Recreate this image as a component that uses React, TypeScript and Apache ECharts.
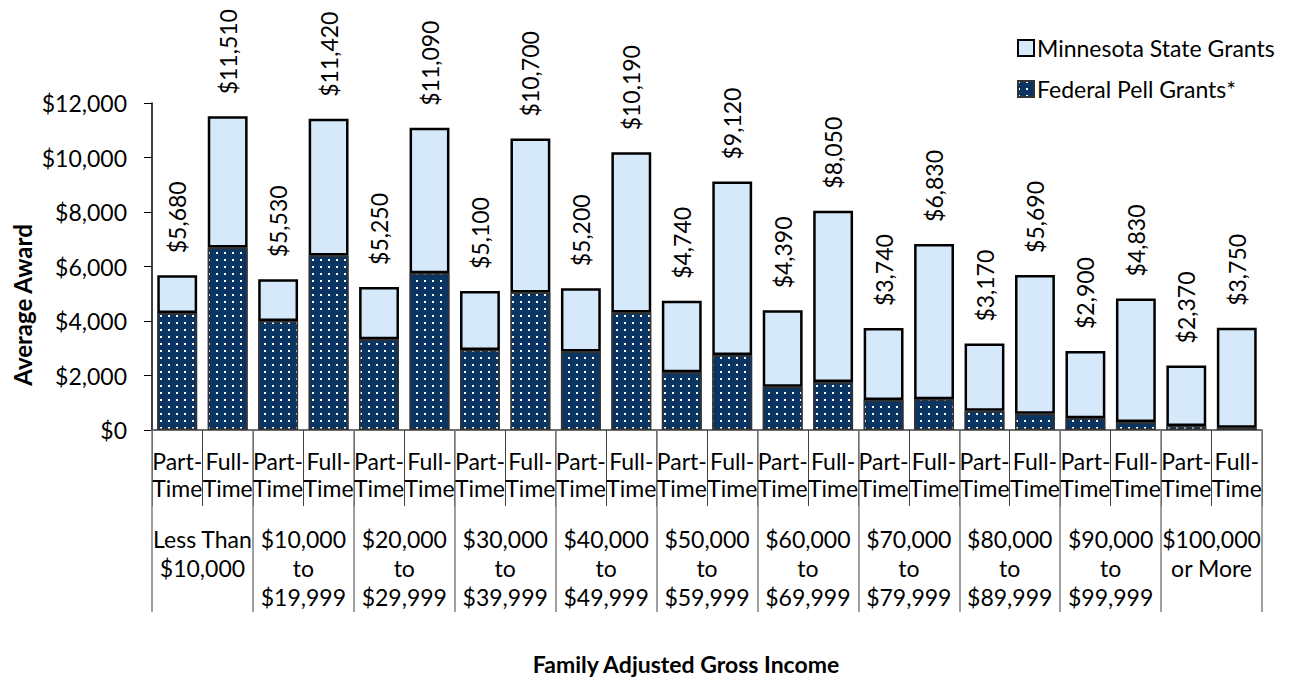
import React, { useEffect, useRef } from "react";
import * as echarts from "echarts";

const subCategories = [
  "Part-\nTime", "Full-\nTime", "Part-\nTime", "Full-\nTime", "Part-\nTime", "Full-\nTime",
  "Part-\nTime", "Full-\nTime", "Part-\nTime", "Full-\nTime", "Part-\nTime", "Full-\nTime",
  "Part-\nTime", "Full-\nTime", "Part-\nTime", "Full-\nTime", "Part-\nTime", "Full-\nTime",
  "Part-\nTime", "Full-\nTime", "Part-\nTime", "Full-\nTime",
];

const incomeGroups = [
  "Less Than\n$10,000",
  "$10,000\nto\n$19,999",
  "$20,000\nto\n$29,999",
  "$30,000\nto\n$39,999",
  "$40,000\nto\n$49,999",
  "$50,000\nto\n$59,999",
  "$60,000\nto\n$69,999",
  "$70,000\nto\n$79,999",
  "$80,000\nto\n$89,999",
  "$90,000\nto\n$99,999",
  "$100,000\nor More",
];

const pellGrants = [
  4290, 6700, 4000, 6400, 3330, 5750, 2940, 5050, 2880, 4310, 2120,
  2750, 1590, 1760, 1100, 1130, 710, 600, 430, 290, 150, 80,
];

const stateGrants = [
  1390, 4810, 1530, 5020, 1920, 5340, 2160, 5650, 2320, 5880, 2620,
  6370, 2800, 6290, 2640, 5700, 2460, 5090, 2470, 4540, 2220, 3670,
];

const totalAwards = [
  5680, 11510, 5530, 11420, 5250, 11090, 5100, 10700, 5200, 10190, 4740,
  9120, 4390, 8050, 3740, 6830, 3170, 5690, 2900, 4830, 2370, 3750,
];

const yTicks = { min: 0, max: 12000, interval: 2000 };

const FONT = "Lato";
const fmtMoney = (v: number) => "$" + v.toLocaleString("en-US");

export default function App() {
  const ref = useRef<HTMLDivElement>(null);

  useEffect(() => {
    if (!ref.current) return;
    const chart = echarts.init(ref.current, null, { renderer: "svg" });
    chart.setOption({
      animation: false,
      backgroundColor: "#ffffff",
      textStyle: { fontFamily: FONT, color: "#000" },
      grid: { left: 152, right: 41, top: 103, bottom: 248, containLabel: false },
      legend: {
        orient: "vertical",
        left: 1012,
        top: 31,
        itemWidth: 16,
        itemHeight: 16,
        itemGap: 17,
        icon: "rect",
        data: ["Minnesota State Grants", "Federal Pell Grants*"],
        textStyle: { fontFamily: FONT, fontSize: 23, color: "#000", lineHeight: 24, padding: [0, 0, 0, -2] },
      },
      graphic: [
        {
          type: "text",
          x: 22,
          y: 305,
          rotation: Math.PI / 2,
          style: {
            text: "Average Award",
            font: `bold 24px ${FONT}`,
            fill: "#000",
            textAlign: "center",
            textVerticalAlign: "middle",
          },
        },
        {
          type: "text",
          x: 686,
          y: 664,
          style: {
            text: "Family Adjusted Gross Income",
            font: `bold 23px ${FONT}`,
            fill: "#000",
            textAlign: "center",
            textVerticalAlign: "middle",
          },
        },
      ],
      xAxis: [
        {
          type: "category",
          data: subCategories,
          position: "bottom",
          axisLine: { show: true, lineStyle: { color: "#404040", width: 1.5 } },
          axisTick: { show: true, length: 76, interval: 0, lineStyle: { color: "#404040", width: 1 } },
          axisLabel: {
            interval: 0,
            margin: 17,
            fontFamily: FONT,
            fontSize: 23,
            lineHeight: 27,
            color: "#000",
          },
        },
        {
          type: "category",
          data: incomeGroups,
          position: "bottom",
          axisLine: { show: false },
          axisTick: { show: true, length: 182, interval: 0, lineStyle: { color: "#7f7f7f", width: 1.5 } },
          axisLabel: {
            interval: 0,
            margin: 94,
            fontFamily: FONT,
            fontSize: 23,
            lineHeight: 29,
            color: "#000",
          },
        },
      ],
      yAxis: {
        type: "value",
        min: yTicks.min,
        max: yTicks.max,
        interval: yTicks.interval,
        axisLine: { show: true, lineStyle: { color: "#000", width: 1.5 } },
        axisTick: { show: true, length: 8, lineStyle: { color: "#000" } },
        splitLine: { show: false },
        axisLabel: {
          margin: 25,
          fontFamily: FONT,
          fontSize: 23,
          color: "#000",
          formatter: (v: number) => fmtMoney(v),
        },
      },
      series: [
        {
          name: "Federal Pell Grants*",
          type: "bar",
          stack: "total",
          xAxisIndex: 0,
          barCategoryGap: "21%",
          data: pellGrants,
          itemStyle: {
            color: "#0a3563",
            borderColor: "#333333",
            borderWidth: 1.5,
            decal: {
              symbol: "rect",
              symbolSize: 1,
              color: "#ffffff",
              dashArrayX: [2, 6],
              dashArrayY: [2, 5],
              rotation: 0,
            },
          },
        },
        {
          name: "Minnesota State Grants",
          type: "bar",
          stack: "total",
          xAxisIndex: 0,
          barCategoryGap: "21%",
          data: stateGrants,
          itemStyle: {
            color: "#d5e9fb",
            borderColor: "#000000",
            borderWidth: 2.5,
          },
          label: {
            show: true,
            position: "top",
            rotate: 90,
            align: "left",
            verticalAlign: "middle",
            distance: 22,
            fontFamily: FONT,
            fontSize: 23,
            color: "#000",
            formatter: (p: any) => fmtMoney(totalAwards[p.dataIndex]),
          },
        },
      ],
    });
    return () => chart.dispose();
  }, []);

  return (
    <div
      ref={ref}
      style={{ position: "fixed", left: 0, top: 0, width: 1303, height: 678, background: "#fff" }}
    />
  );
}
